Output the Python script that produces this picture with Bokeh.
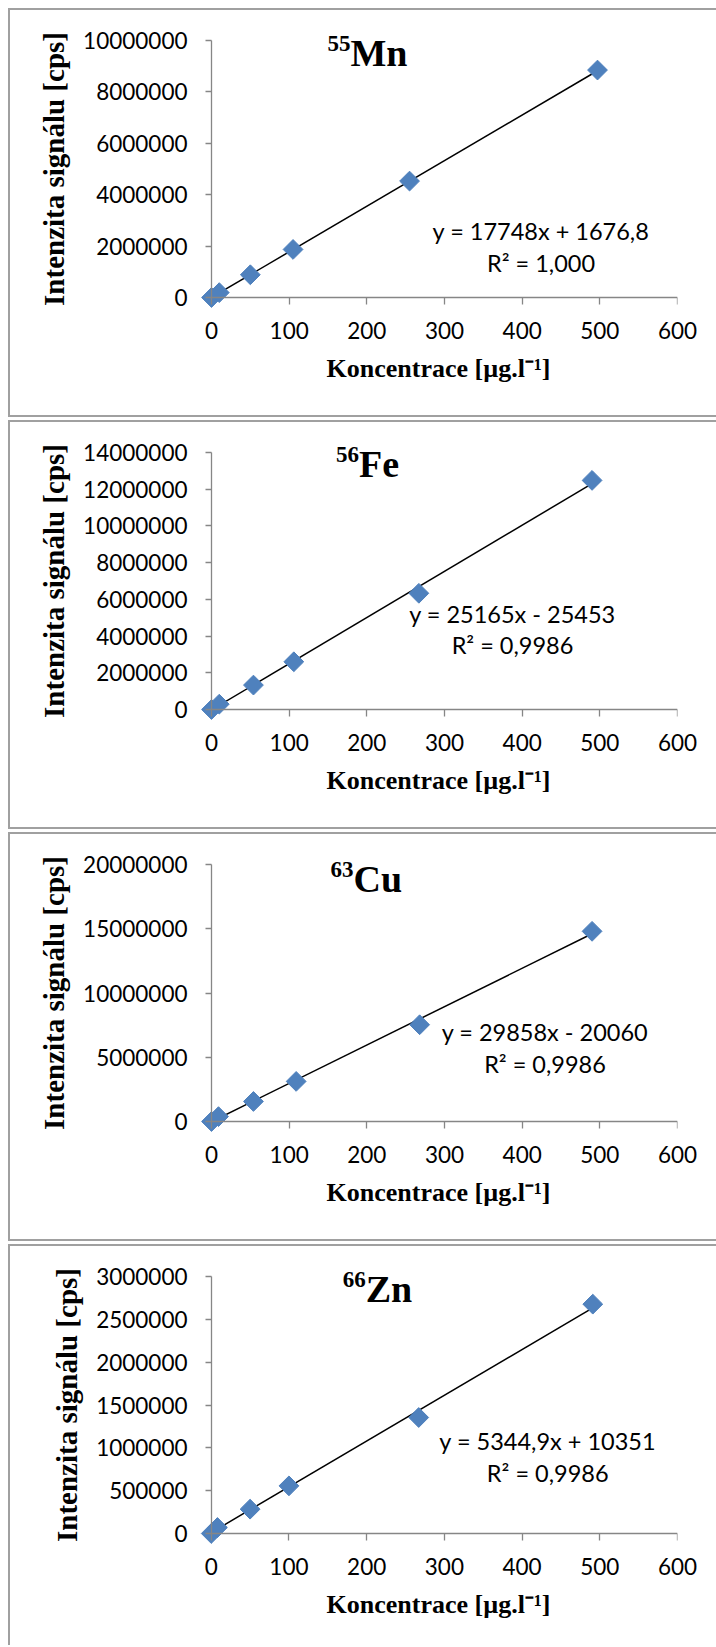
import numpy as np
from bokeh.plotting import figure
from bokeh.layouts import column
from bokeh.models import FixedTicker, Label, NumeralTickFormatter, LinearAxis
from bokeh.embed import file_html
from bokeh.resources import INLINE

# ---------------- data ----------------
elements = ["Mn", "Fe", "Cu", "Zn"]
isotopes = ["55", "56", "63", "66"]

mn_x = [0, 10, 50, 105, 255, 497]
mn_y = [0, 190000, 885000, 1870000, 4530000, 8850000]
fe_x = [0, 10, 54, 106, 267, 490]
fe_y = [0, 290000, 1330000, 2600000, 6330000, 12480000]
cu_x = [0, 9, 54, 109, 268, 490]
cu_y = [0, 380000, 1560000, 3120000, 7530000, 14800000]
zn_x = [0, 8, 50, 100, 267, 491]
zn_y = [0, 70000, 284000, 556000, 1354000, 2677000]

slopes = [17748, 25165, 29858, 5344.9]
intercepts = [1676.8, -25453, -20060, 10351]
eq_texts = ["y = 17748x + 1676,8", "y = 25165x - 25453", "y = 29858x - 20060", "y = 5344,9x + 10351"]
r2_texts = ["R² = 1,000", "R² = 0,9986", "R² = 0,9986", "R² = 0,9986"]

x_ticks = [0, 100, 200, 300, 400, 500, 600]
mn_ticks = [0, 2000000, 4000000, 6000000, 8000000, 10000000]
fe_ticks = [0, 2000000, 4000000, 6000000, 8000000, 10000000, 12000000, 14000000]
cu_ticks = [0, 5000000, 10000000, 15000000, 20000000]
zn_ticks = [0, 500000, 1000000, 1500000, 2000000, 2500000, 3000000]

x_label = "Koncentrace [µg.l⁻¹]"
y_label = "Intenzita signálu [cps]"

xs = [mn_x, fe_x, cu_x, zn_x]
ys = [mn_y, fe_y, cu_y, zn_y]
yticks = [mn_ticks, fe_ticks, cu_ticks, zn_ticks]

# ---------------- layout (pixels) ----------------
W = 708
heights = [409, 409, 409, 401]
axis_left = [201, 201, 201, 190]   # y-axis position inside the canvas
PAD = 12                           # room around the axes so corner markers / texts stay whole
AXIS_TOP = 30                      # top of the y axis inside the canvas
AXIS_H = 257
MB_RIGHT = 41
title_dx = [139, 147.5, 142, 154.5]
title_base = [-25, -24, -26.5, -24.5]   # element baseline below the top of the y axis
eq_dx = [329.5, 301, 333.5, 336.5]
eq_dy1 = [-190, -161, -167, -164.7]
eq_dy2 = [-222, -192, -199, -196.7]

BLUE = "#4F81BD"
AXIS = "#868686"
BORDER = "#a0a0a0"
SERIF = "Liberation Serif"
SANS = "Lato"

figs = []
for i in range(4):
    h = heights[i]
    ymax = yticks[i][-1]
    xmax = x_ticks[-1]
    axis_w = W - MB_RIGHT - axis_left[i]
    xpad = xmax * PAD / axis_w
    ypad = ymax * PAD / AXIS_H
    p = figure(width=W, height=h, x_range=(-xpad, xmax), y_range=(-ypad, ymax + ypad),
               output_backend="svg", toolbar_location=None,
               min_border_left=axis_left[i] - PAD, min_border_right=MB_RIGHT,
               min_border_top=AXIS_TOP - PAD,
               min_border_bottom=h - AXIS_TOP - AXIS_H - PAD)
    p.xgrid.visible = False
    p.ygrid.visible = False
    p.outline_line_color = None
    p.background_fill_color = "white"
    p.border_fill_color = "white"
    style = {"border-left": f"2px solid {BORDER}", "border-top": f"2px solid {BORDER}"}
    if i < 3:
        style["border-bottom"] = f"2px solid {BORDER}"
    p.styles = style

    # label axes (at the frame edges): only tick labels and titles
    for ax in (p.xaxis[0], p.yaxis[0]):
        ax.axis_line_color = None
        ax.major_tick_line_color = None
        ax.minor_tick_line_color = None
        ax.major_tick_out = 0
        ax.major_tick_in = 0
        ax.major_label_text_font = SANS
        ax.major_label_text_font_size = "22.5px"
        ax.major_label_text_color = "black"
        ax.axis_label_text_font = SERIF
        ax.axis_label_text_font_style = "bold"
        ax.axis_label_text_color = "black"

    p.xaxis.ticker = FixedTicker(ticks=x_ticks, minor_ticks=[])
    p.xaxis.major_label_standoff = 12
    p.xaxis.axis_label = x_label
    p.xaxis.axis_label_text_font_size = "26px"
    p.xaxis.axis_label_standoff = 12

    p.yaxis.ticker = FixedTicker(ticks=yticks[i], minor_ticks=[])
    p.yaxis.formatter = NumeralTickFormatter(format="0")
    p.yaxis.major_label_standoff = 12
    p.yaxis.axis_label = y_label
    p.yaxis.axis_label_text_font_size = "29px"
    p.yaxis.axis_label_standoff = 10

    # line axes crossing at the origin: axis line and tick marks only
    xa = LinearAxis(fixed_location=0, bounds=(0, xmax),
                    ticker=FixedTicker(ticks=x_ticks, minor_ticks=[]),
                    axis_line_color=AXIS, axis_line_width=1.3,
                    major_tick_line_color=AXIS, major_tick_line_width=1.3,
                    major_tick_out=7, major_tick_in=0, minor_tick_line_color=None,
                    major_label_text_font_size="0px", major_label_text_alpha=0,
                    major_label_standoff=0)
    ya = LinearAxis(fixed_location=0, bounds=(0, ymax),
                    ticker=FixedTicker(ticks=yticks[i], minor_ticks=[]),
                    axis_line_color=AXIS, axis_line_width=1.3,
                    major_tick_line_color=AXIS, major_tick_line_width=1.3,
                    major_tick_out=6, major_tick_in=0, minor_tick_line_color=None,
                    major_label_text_font_size="0px", major_label_text_alpha=0,
                    major_label_standoff=0)
    p.add_layout(xa, "below")
    p.add_layout(ya, "left")

    # trendline over the data range
    x0, x1 = min(xs[i]), max(xs[i])
    p.line([x0, x1], [slopes[i] * x0 + intercepts[i], slopes[i] * x1 + intercepts[i]],
           line_color="black", line_width=1.5)
    p.scatter(xs[i], ys[i], marker="square", size=14, angle=np.pi / 4,
              fill_color=BLUE, line_color=BLUE)

    # title: isotope superscript + element (positioned by their vertical centres)
    p.add_layout(Label(x=0, y=ymax, x_offset=title_dx[i], y_offset=title_base[i] + 22,
                       text=isotopes[i], text_font=SERIF, text_font_style="bold",
                       text_font_size="23px", text_align="right", text_baseline="middle",
                       text_color="black"))
    p.add_layout(Label(x=0, y=ymax, x_offset=title_dx[i], y_offset=title_base[i] + 12.5,
                       text=elements[i], text_font=SERIF, text_font_style="bold",
                       text_font_size="38px", text_align="left", text_baseline="middle",
                       text_color="black"))
    # equation
    p.add_layout(Label(x=0, y=ymax, x_offset=eq_dx[i], y_offset=eq_dy1[i],
                       text=eq_texts[i], text_font=SANS, text_font_size="23.5px",
                       text_align="center", text_baseline="middle", text_color="black"))
    p.add_layout(Label(x=0, y=ymax, x_offset=eq_dx[i], y_offset=eq_dy2[i],
                       text=r2_texts[i], text_font=SANS, text_font_size="23.5px",
                       text_align="center", text_baseline="middle", text_color="black"))
    figs.append(p)

layout = column(*figs, spacing=3, margin=(8, 0, 0, 8))
open("out.html", "w").write(file_html(layout, INLINE))
